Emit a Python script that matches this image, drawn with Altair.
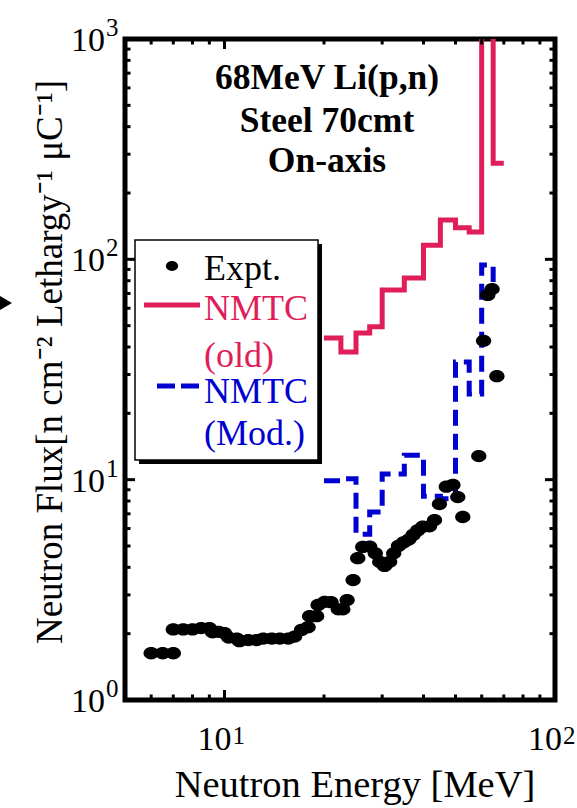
import altair as alt
import pandas as pd

# Measured on-axis neutron spectrum behind 70 cm of steel (68 MeV Li(p,n) source)
expt_energy = [6.0, 6.5, 7.0, 7.0, 7.5, 8.0, 8.5, 9.0,
               9.2, 9.6, 10.0, 10.3, 10.9, 11.1, 11.8, 12.5,
               13.1, 13.9, 14.7, 15.6, 16.3, 17.1, 17.9, 18.1,
               19.0, 19.2, 20.1, 21.0, 22.1, 22.8, 23.5, 24.5,
               25.3, 26.2, 27.5, 28.6, 29.5, 30.5, 31.6, 32.5,
               33.6, 34.8, 36.1, 37.2, 38.4, 39.8, 41.7, 43.2,
               44.7, 46.9, 49.1, 50.8, 52.6, 58.8, 60.8, 62.6,
               64.5, 66.7]
expt_flux = [1.63, 1.63, 1.63, 2.09, 2.09, 2.09, 2.12, 2.12,
             2.03, 2.04, 2.01, 1.92, 1.90, 1.85, 1.87, 1.87,
             1.90, 1.90, 1.90, 1.90, 1.94, 2.08, 2.14, 2.40,
             2.40, 2.70, 2.79, 2.78, 2.58, 2.58, 2.84, 3.50,
             4.40, 4.95, 4.97, 4.63, 4.23, 4.06, 4.24, 4.63,
             5.00, 5.19, 5.35, 5.61, 5.88, 6.12, 6.14, 6.56,
             7.75, 9.29, 9.46, 8.34, 6.77, 12.8, 42.7, 68.9,
             73.3, 29.5]

# NMTC step histograms: flux level starting at each energy edge (MeV)
old_edges = [20, 22.5, 25, 27.5, 30, 35, 40, 45, 50, 55, 60, 65, 70]
nmtc_old = [44.0, 38.0, 46.3, 49.4, 72.6, 82.3, 116, 151, 139, 133, 1500, 273, 273]
mod_edges = [20, 22.5, 25, 27.5, 30, 35, 40, 45, 50, 55, 60, 65]
nmtc_mod = [9.9, 10.1, 5.66, 7.13, 10.6, 12.9, 8.4, 8.2, 34.2, 24.5, 94.3, 78.9]

# Frame ticks and decade labels
x_major = [10]
x_minor = [6, 7, 8, 9, 20, 30, 40, 50, 60, 70, 80, 90]
y_major = [10, 100]
y_minor = [2, 3, 4, 5, 6, 7, 8, 9, 20, 30, 40, 50, 60, 70, 80, 90,
           200, 300, 400, 500, 600, 700, 800, 900]
x_label_vals = [10, 100]
x_label_exp = ["1", "2"]
y_label_vals = [1, 10, 100, 1000]
y_label_exp = ["0", "1", "2", "3"]

RED = "#E01E5A"
BLUE = "#0000D0"
FONT = "Liberation Serif"
W, H = 430, 661

xs = alt.Scale(type="log", domain=[5, 100], nice=False)
ys = alt.Scale(type="log", domain=[1, 1000], nice=False)


def step_frame(edges, values):
    return pd.DataFrame({"E": edges, "F": values, "i": range(len(edges))})


expt = pd.DataFrame({"E": expt_energy, "F": expt_flux})
ellipse = "M -1 0 A 1 0.8 0 1 0 1 0 A 1 0.8 0 1 0 -1 0 Z"

points = alt.Chart(expt).mark_point(
    shape=ellipse, filled=True, color="black", size=235, opacity=1
).encode(
    x=alt.X("E:Q", scale=xs, axis=None),
    y=alt.Y("F:Q", scale=ys, axis=None),
)

old_line = alt.Chart(step_frame(old_edges, nmtc_old)).mark_line(
    interpolate="step-after", color=RED, strokeWidth=5, clip=True
).encode(
    x=alt.X("E:Q", scale=xs, axis=None),
    y=alt.Y("F:Q", scale=ys, axis=None),
    order="i:O",
)

mod_line = alt.Chart(step_frame(mod_edges, nmtc_mod)).mark_line(
    interpolate="step-after", color=BLUE, strokeWidth=5, strokeDash=[16, 8],
    clip=True
).encode(
    x=alt.X("E:Q", scale=xs, axis=None),
    y=alt.Y("F:Q", scale=ys, axis=None),
    order="i:O",
)


# Inward-pointing ticks on all four sides of the frame
def xticks(vals, length):
    df = pd.DataFrame({"E": vals})
    base = alt.Chart(df).mark_rule(color="black", strokeWidth=3)
    bottom = base.encode(x=alt.X("E:Q", scale=xs, axis=None),
                         y=alt.value(H), y2=alt.value(H - length))
    top = base.encode(x=alt.X("E:Q", scale=xs, axis=None),
                      y=alt.value(0), y2=alt.value(length))
    return [bottom, top]


def yticks(vals, length):
    df = pd.DataFrame({"F": vals})
    base = alt.Chart(df).mark_rule(color="black", strokeWidth=3)
    left = base.encode(y=alt.Y("F:Q", scale=ys, axis=None),
                       x=alt.value(0), x2=alt.value(length))
    right = base.encode(y=alt.Y("F:Q", scale=ys, axis=None),
                        x=alt.value(W), x2=alt.value(W - length))
    return [left, right]


ticks = (xticks(x_major, 10) + xticks(x_minor, 5.5)
         + yticks(y_major, 10) + yticks(y_minor, 5.5))

# Decade labels written as 10 with a raised exponent
xl = pd.DataFrame({"E": x_label_vals, "exp": x_label_exp, "base": "10"})
x_base = alt.Chart(xl).mark_text(
    font=FONT, fontSize=34, align="right", baseline="alphabetic", dx=7
).encode(x=alt.X("E:Q", scale=xs, axis=None), y=alt.value(H + 50),
         text="base:N")
x_exp = alt.Chart(xl).mark_text(
    font=FONT, fontSize=25, align="left", baseline="alphabetic", dx=8
).encode(x=alt.X("E:Q", scale=xs, axis=None), y=alt.value(H + 44),
         text="exp:N")

yl = pd.DataFrame({"F": y_label_vals, "exp": y_label_exp, "base": "10"})
y_base = alt.Chart(yl).mark_text(
    font=FONT, fontSize=34, align="right", baseline="alphabetic", dy=12
).encode(y=alt.Y("F:Q", scale=ys, axis=None), x=alt.value(-20),
         text="base:N")
y_exp = alt.Chart(yl).mark_text(
    font=FONT, fontSize=25, align="left", baseline="alphabetic", dy=-3
).encode(y=alt.Y("F:Q", scale=ys, axis=None), x=alt.value(-19),
         text="exp:N")

one = pd.DataFrame({"k": [0]})


def label(text, x, y, size, color="black", weight="normal", align="left",
          angle=0):
    props = dict(text=text, font=FONT, fontSize=size, color=color,
                 fontWeight=weight, align=align, baseline="alphabetic")
    if angle:
        props["angle"] = angle
    return alt.Chart(one).mark_text(**props).encode(
        x=alt.value(x), y=alt.value(y))


x_title = label("Neutron Energy [MeV]", 230, H + 97, 38.5, align="center")
y_title = label("Neutron Flux[n cm\u207b\u00b2 Lethargy\u207b\u00b9 \u03bcC\u207b\u00b9]",
                -63, 323, 37, align="center", angle=270)

notes = [
    label("68MeV Li(p,n)", 202, 50, 35.5, weight="bold", align="center"),
    label("Steel 70cmt", 202, 93, 35.5, weight="bold", align="center"),
    label("On-axis", 202, 133, 35.5, weight="bold", align="center"),
]

# Legend box with drop shadow
shadow = alt.Chart(one).mark_rect(color="black").encode(
    x=alt.value(14), x2=alt.value(197), y=alt.value(205), y2=alt.value(425))
box = alt.Chart(one).mark_rect(fill="white", stroke="black",
                               strokeWidth=1.5).encode(
    x=alt.value(10), x2=alt.value(193), y=alt.value(201), y2=alt.value(421))
leg_dot = alt.Chart(one).mark_point(
    shape=ellipse, filled=True, color="black", size=150, opacity=1
).encode(x=alt.value(47), y=alt.value(227))
leg_red = alt.Chart(one).mark_rule(color=RED, strokeWidth=5).encode(
    x=alt.value(19), x2=alt.value(75), y=alt.value(266))
leg_blue = alt.Chart(one).mark_rule(color=BLUE, strokeWidth=5,
                                    strokeDash=[18, 6]).encode(
    x=alt.value(32), x2=alt.value(75), y=alt.value(347))
legend = [
    shadow, box, leg_dot, leg_red, leg_blue,
    label("Expt.", 79, 241, 36),
    label("NMTC", 79, 281, 36, color=RED),
    label("(old)", 79, 328, 36, color=RED),
    label("NMTC", 79, 364, 36, color=BLUE),
    label("(Mod.)", 79, 406, 36, color=BLUE),
]

marker = alt.Chart(one).mark_point(
    shape="triangle-right", filled=True, color="black", size=260, opacity=1
).encode(x=alt.value(-120), y=alt.value(264))

chart = alt.layer(
    old_line, mod_line, points, *ticks, x_base, x_exp, y_base, y_exp,
    x_title, y_title, *notes, *legend, marker
).properties(
    width=W, height=H,
    background="white",
    padding={"left": 125, "top": 39, "right": 22, "bottom": 108},
    autosize=alt.AutoSizeParams(type="none"),
).configure_view(
    stroke="black", strokeWidth=5
)

chart.save("out.html", embed_options={"renderer": "svg", "actions": False})
